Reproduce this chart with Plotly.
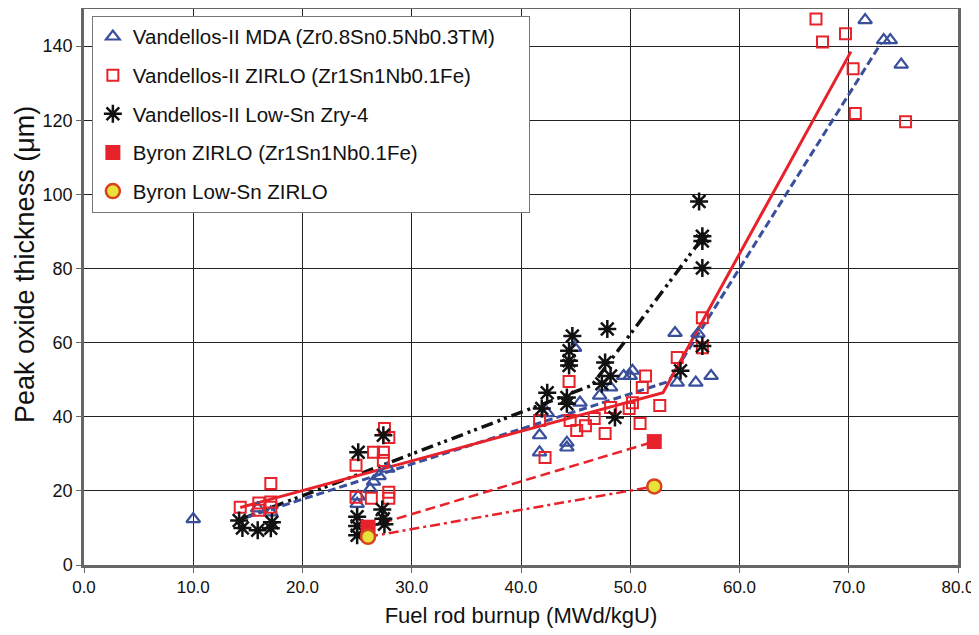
import plotly.graph_objects as go

# ---------------- data ----------------
mda_x = [10.0, 15.9, 17.1, 25.0, 25.1, 26.2, 26.5, 27.0, 27.8, 41.7, 41.7, 42.4, 44.2, 44.2,
         44.9, 45.4, 47.2, 48.2, 49.4, 50.0, 50.2, 54.1, 54.3, 56.2, 56.0, 57.4, 71.5, 73.2, 73.8, 74.8]
mda_y = [12.4, 15.3, 14.2, 16.5, 18.5, 20.5, 22.5, 24.0, 26.0, 35.0, 30.4, 41.0, 33.0, 31.7,
         58.6, 43.8, 45.7, 47.9, 51.0, 51.0, 52.4, 62.6, 49.2, 62.4, 49.2, 51.0, 147.0, 141.6, 141.6, 135.0]

zirlo_x = [14.3, 16.0, 16.0, 17.1, 17.1, 17.1, 24.9, 24.9, 26.3, 26.5, 27.4, 27.4, 27.5, 27.9, 27.9, 27.9,
           42.2, 41.7, 44.5, 44.4, 45.1, 45.9, 46.7, 47.7, 48.2, 49.9, 50.2, 50.9, 51.1, 51.4, 52.7,
           54.3, 56.6, 56.6, 67.0, 67.6, 69.7, 70.4, 70.6, 75.2]
zirlo_y = [15.6, 16.7, 14.8, 22.0, 17.0, 15.6, 26.9, 18.3, 18.0, 30.4, 30.4, 28.2, 36.8, 34.4, 19.6, 18.0,
           29.0, 39.0, 39.0, 49.5, 36.3, 37.6, 39.5, 35.5, 42.5, 42.2, 43.8, 38.2, 47.9, 51.0, 43.0,
           56.0, 66.7, 58.6, 147.3, 141.1, 143.3, 133.9, 121.8, 119.6]

zry_x = [14.2, 14.5, 15.9, 17.1, 17.2, 25.1, 25.0, 25.0, 25.0, 27.4, 27.3, 27.4, 27.5,
         41.9, 42.4, 44.2, 44.2, 44.4, 44.4, 44.4, 44.7, 47.4, 47.7, 47.9, 48.2, 48.6,
         54.6, 56.3, 56.6, 56.6, 56.6, 56.6]
zry_y = [12.0, 10.0, 9.4, 9.9, 11.5, 30.4, 13.0, 10.5, 8.0, 35.0, 15.0, 12.5, 11.0,
         42.2, 46.5, 45.2, 43.5, 57.8, 55.1, 53.8, 61.8, 48.9, 54.6, 63.7, 51.0, 39.8,
         52.4, 98.1, 88.7, 87.4, 80.1, 59.1]

byron_zirlo_x = [26.0, 52.2]
byron_zirlo_y = [10.2, 33.3]
byron_lowsn_x = [26.0, 52.2]
byron_lowsn_y = [7.6, 21.2]

# trend lines
mda_fit_x = [15.0, 53.5, 73.0]
mda_fit_y = [13.0, 49.5, 141.0]
zirlo_fit_x = [14.3, 53.0, 70.2]
zirlo_fit_y = [15.5, 46.5, 138.5]
zry_fit_x = [14.5, 46.5, 56.3]
zry_fit_y = [12.5, 48.5, 87.0]

x_ticks = [0, 10, 20, 30, 40, 50, 60, 70, 80]
y_ticks = [0, 20, 40, 60, 80, 100, 120, 140]

names = ["Vandellos-II MDA (Zr0.8Sn0.5Nb0.3TM)",
         "Vandellos-II ZIRLO (Zr1Sn1Nb0.1Fe)",
         "Vandellos-II Low-Sn Zry-4",
         "Byron ZIRLO (Zr1Sn1Nb0.1Fe)",
         "Byron Low-Sn ZIRLO"]

BLUE = "#3a4f9c"
RED = "#e8222a"
BLACK = "#111111"

fig = go.Figure()

# trend lines (no legend)
fig.add_trace(go.Scatter(x=zry_fit_x, y=zry_fit_y, mode="lines", showlegend=False,
                         line=dict(color=BLACK, width=3.5, dash="12px,5px,3px,4px,3px,5px")))
fig.add_trace(go.Scatter(x=mda_fit_x, y=mda_fit_y, mode="lines", showlegend=False,
                         line=dict(color=BLUE, width=3, dash="8px,4px")))
fig.add_trace(go.Scatter(x=zirlo_fit_x, y=zirlo_fit_y, mode="lines", showlegend=False,
                         line=dict(color=RED, width=3)))
fig.add_trace(go.Scatter(x=byron_zirlo_x, y=byron_zirlo_y, mode="lines", showlegend=False,
                         line=dict(color=RED, width=2.5, dash="10px,5px")))
fig.add_trace(go.Scatter(x=byron_lowsn_x, y=byron_lowsn_y, mode="lines", showlegend=False,
                         line=dict(color=RED, width=2.5, dash="10px,4px,3px,4px")))

# markers
pad = "\u00a0" * 5
fig.add_trace(go.Scatter(x=mda_x, y=mda_y, mode="markers", name=names[0] + pad, legendgroup="a",
                         marker=dict(symbol="triangle-up-open", size=12, color=BLUE,
                                     line=dict(width=2.2, color=BLUE))))
fig.add_trace(go.Scatter(x=zirlo_x, y=zirlo_y, mode="markers", name=names[1], legendgroup="b",
                         marker=dict(symbol="square-open", size=11, color=RED,
                                     line=dict(width=2, color=RED))))
fig.add_trace(go.Scatter(x=zry_x, y=zry_y, mode="markers", name=names[2], legendgroup="c",
                         marker=dict(symbol="asterisk-open", size=15, color=BLACK,
                                     line=dict(width=2.5, color=BLACK))))
fig.add_trace(go.Scatter(x=byron_zirlo_x, y=byron_zirlo_y, mode="markers", name=names[3], legendgroup="d",
                         marker=dict(symbol="square", size=15, color=RED,
                                     line=dict(width=0, color=RED))))
fig.add_trace(go.Scatter(x=byron_lowsn_x, y=byron_lowsn_y, mode="markers", name=names[4], legendgroup="e",
                         marker=dict(symbol="circle", size=14, color="#e8e23a",
                                     line=dict(width=2.5, color="#d8421e"))))

fig.update_layout(
    width=971, height=627,
    margin=dict(l=76, r=21, t=1, b=70),
    paper_bgcolor="white", plot_bgcolor="white",
    font=dict(family="Liberation Sans, Arial, sans-serif", color="#111"),
    legend=dict(x=0.009, y=0.988, xanchor="left", yanchor="top",
                bgcolor="white", bordercolor="#777", borderwidth=1,
                font=dict(size=20.5, color="#111"), tracegroupgap=9,
                itemsizing="trace"),
    annotations=[dict(text="Peak oxide thickness (μm)", textangle=-90,
                      xref="paper", yref="paper", x=0, y=0.5, xanchor="right", yanchor="middle",
                      xshift=-42, yshift=22, showarrow=False,
                      font=dict(size=27, color="#111"))],
)

fig.update_xaxes(range=[0, 80], tickvals=x_ticks, tickformat=".1f",
                 showgrid=True, gridcolor="#222", gridwidth=1,
                 showline=True, linecolor="#666", linewidth=2.5, mirror=True,
                 ticks="outside", ticklen=5, tickcolor="#666",
                 tickfont=dict(size=17),
                 title=dict(text="Fuel rod burnup (MWd/kgU)", font=dict(size=22), standoff=12),
                 zeroline=False, automargin=False)
fig.update_yaxes(range=[0, 150], tickvals=y_ticks,
                 showgrid=True, gridcolor="#222", gridwidth=1,
                 showline=True, linecolor="#666", linewidth=2.5, mirror=True,
                 ticks="outside", ticklen=5, tickcolor="#666",
                 tickfont=dict(size=18),
                 zeroline=False, automargin=False)

fig.write_html("out.html")
